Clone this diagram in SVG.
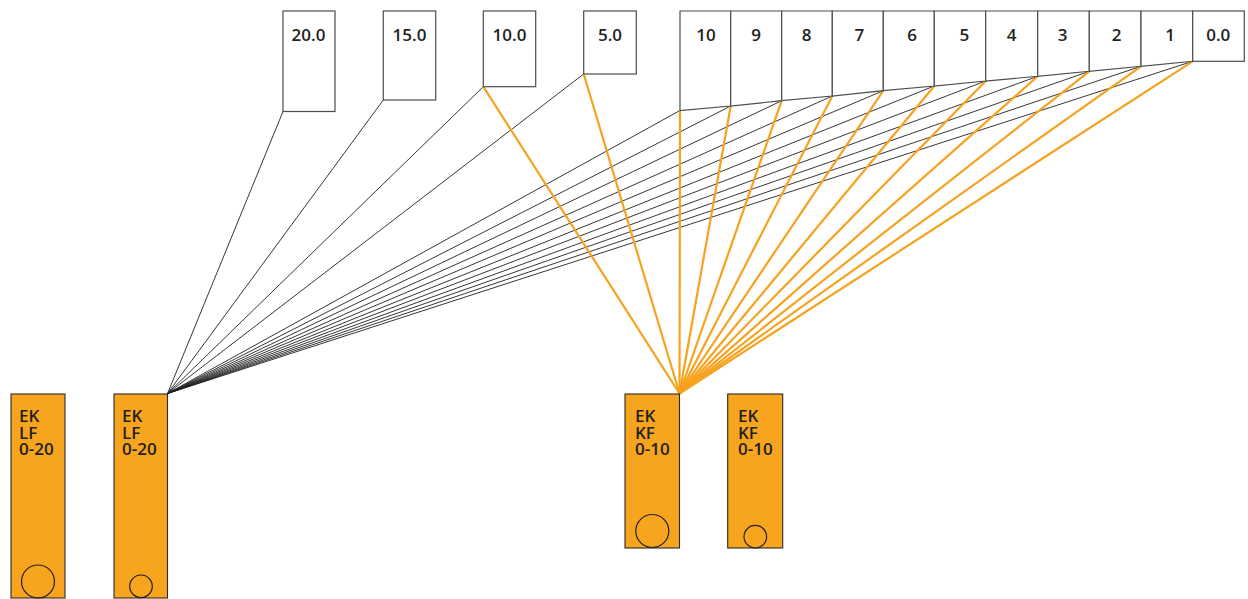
<svg xmlns="http://www.w3.org/2000/svg" width="1248" height="599" viewBox="0 0 1248 599">
<style>
.box{fill:#fff;stroke:#4d4d4d;stroke-width:1.2}
.lbl{font-family:"Open Sans","Liberation Sans",sans-serif;font-weight:600;font-size:17px;fill:#231f20;text-anchor:middle}
.node{fill:#F7A51E;stroke:#2a2a2a;stroke-width:1.1}
.ntx{font-family:"Open Sans","Liberation Sans",sans-serif;font-weight:600;font-size:17px;fill:#231f20}
.ring{fill:none;stroke:#231f20;stroke-width:1.2}
.blk line{stroke:#231f20;stroke-width:0.9}
.org line{stroke:#F6A21E;stroke-width:2.2}
</style>
<rect width="1248" height="599" fill="#fff"/>
<g id="connectors">
<g class="blk">
<line x1="167.5" y1="393.5" x2="283" y2="111.5"/>
<line x1="167.5" y1="393.5" x2="383.3" y2="100"/>
<line x1="167.5" y1="393.5" x2="483.3" y2="86.7"/>
<line x1="167.5" y1="393.5" x2="583.7" y2="74"/>
<line x1="167.5" y1="393.5" x2="680" y2="110.5"/>
<line x1="167.5" y1="393.5" x2="730.7" y2="106"/>
<line x1="167.5" y1="393.5" x2="781.7" y2="100.7"/>
<line x1="167.5" y1="393.5" x2="832.3" y2="96"/>
<line x1="167.5" y1="393.5" x2="883.3" y2="90.7"/>
<line x1="167.5" y1="393.5" x2="934.3" y2="86"/>
<line x1="167.5" y1="393.5" x2="985.7" y2="81"/>
<line x1="167.5" y1="393.5" x2="1037.7" y2="76.3"/>
<line x1="167.5" y1="393.5" x2="1089.3" y2="71.3"/>
<line x1="167.5" y1="393.5" x2="1141" y2="66.3"/>
<line x1="167.5" y1="393.5" x2="1192.7" y2="61.3"/>
</g>
<g class="org">
<line x1="679.5" y1="393.5" x2="483.3" y2="86.7"/>
<line x1="679.5" y1="393.5" x2="583.7" y2="74"/>
<line x1="679.5" y1="393.5" x2="680" y2="110.5"/>
<line x1="679.5" y1="393.5" x2="730.7" y2="106"/>
<line x1="679.5" y1="393.5" x2="781.7" y2="100.7"/>
<line x1="679.5" y1="393.5" x2="832.3" y2="96"/>
<line x1="679.5" y1="393.5" x2="883.3" y2="90.7"/>
<line x1="679.5" y1="393.5" x2="934.3" y2="86"/>
<line x1="679.5" y1="393.5" x2="985.7" y2="81"/>
<line x1="679.5" y1="393.5" x2="1037.7" y2="76.3"/>
<line x1="679.5" y1="393.5" x2="1089.3" y2="71.3"/>
<line x1="679.5" y1="393.5" x2="1141" y2="66.3"/>
<line x1="679.5" y1="393.5" x2="1192.7" y2="61.3"/>
</g>
</g>
<g id="box-20"><rect class="box" x="283" y="11" width="52" height="100.5"/><text class="lbl" x="308.5" y="41">20.0</text></g>
<g id="box-15"><rect class="box" x="383.3" y="11" width="52.4" height="89"/><text class="lbl" x="409.5" y="41">15.0</text></g>
<g id="box-10a"><rect class="box" x="483.3" y="11" width="52.4" height="75.7"/><text class="lbl" x="509.5" y="41">10.0</text></g>
<g id="box-5a"><rect class="box" x="583.7" y="11" width="52.6" height="63"/><text class="lbl" x="610" y="41">5.0</text></g>
<g id="box-10"><polygon class="box" points="680,11 730.7,11 730.7,106 680,110.5"/><text class="lbl" x="706" y="41">10</text></g>
<g id="box-9"><polygon class="box" points="730.7,11 781.7,11 781.7,100.7 730.7,106"/><text class="lbl" x="756" y="41">9</text></g>
<g id="box-8"><polygon class="box" points="781.7,11 832.3,11 832.3,96 781.7,100.7"/><text class="lbl" x="806.7" y="41">8</text></g>
<g id="box-7"><polygon class="box" points="832.3,11 883.3,11 883.3,90.7 832.3,96"/><text class="lbl" x="859.3" y="41">7</text></g>
<g id="box-6"><polygon class="box" points="883.3,11 934.3,11 934.3,86 883.3,90.7"/><text class="lbl" x="912" y="41">6</text></g>
<g id="box-5"><polygon class="box" points="934.3,11 985.7,11 985.7,81 934.3,86"/><text class="lbl" x="964.3" y="41">5</text></g>
<g id="box-4"><polygon class="box" points="985.7,11 1037.7,11 1037.7,76.3 985.7,81"/><text class="lbl" x="1011.7" y="41">4</text></g>
<g id="box-3"><polygon class="box" points="1037.7,11 1089.3,11 1089.3,71.3 1037.7,76.3"/><text class="lbl" x="1062.7" y="41">3</text></g>
<g id="box-2"><polygon class="box" points="1089.3,11 1141,11 1141,66.3 1089.3,71.3"/><text class="lbl" x="1116.7" y="41">2</text></g>
<g id="box-1"><polygon class="box" points="1141,11 1192.7,11 1192.7,61.3 1141,66.3"/><text class="lbl" x="1170" y="41">1</text></g>
<g id="box-0"><rect class="box" x="1192.7" y="11" width="51.6" height="50.3"/><text class="lbl" x="1218.3" y="41">0.0</text></g>
<g id="node-lf1"><rect class="node" x="11" y="394" width="54" height="204"/><text class="ntx"><tspan x="19" y="422">EK</tspan><tspan x="19" y="438.5">LF</tspan><tspan x="19" y="455">0-20</tspan></text><circle class="ring" cx="38" cy="581.5" r="16.5"/></g>
<g id="node-lf2"><rect class="node" x="114" y="394" width="53.5" height="204"/><text class="ntx"><tspan x="122" y="422">EK</tspan><tspan x="122" y="438.5">LF</tspan><tspan x="122" y="455">0-20</tspan></text><circle class="ring" cx="141" cy="586.3" r="11.3"/></g>
<g id="node-kf1"><rect class="node" x="625" y="394" width="54.5" height="154"/><text class="ntx"><tspan x="635" y="422">EK</tspan><tspan x="635" y="438.5">KF</tspan><tspan x="635" y="455">0-10</tspan></text><circle class="ring" cx="652.3" cy="531" r="16.5"/></g>
<g id="node-kf2"><rect class="node" x="727.7" y="394" width="55" height="154"/><text class="ntx"><tspan x="738" y="422">EK</tspan><tspan x="738" y="438.5">KF</tspan><tspan x="738" y="455">0-10</tspan></text><circle class="ring" cx="755.3" cy="536.7" r="11.3"/></g>
</svg>
